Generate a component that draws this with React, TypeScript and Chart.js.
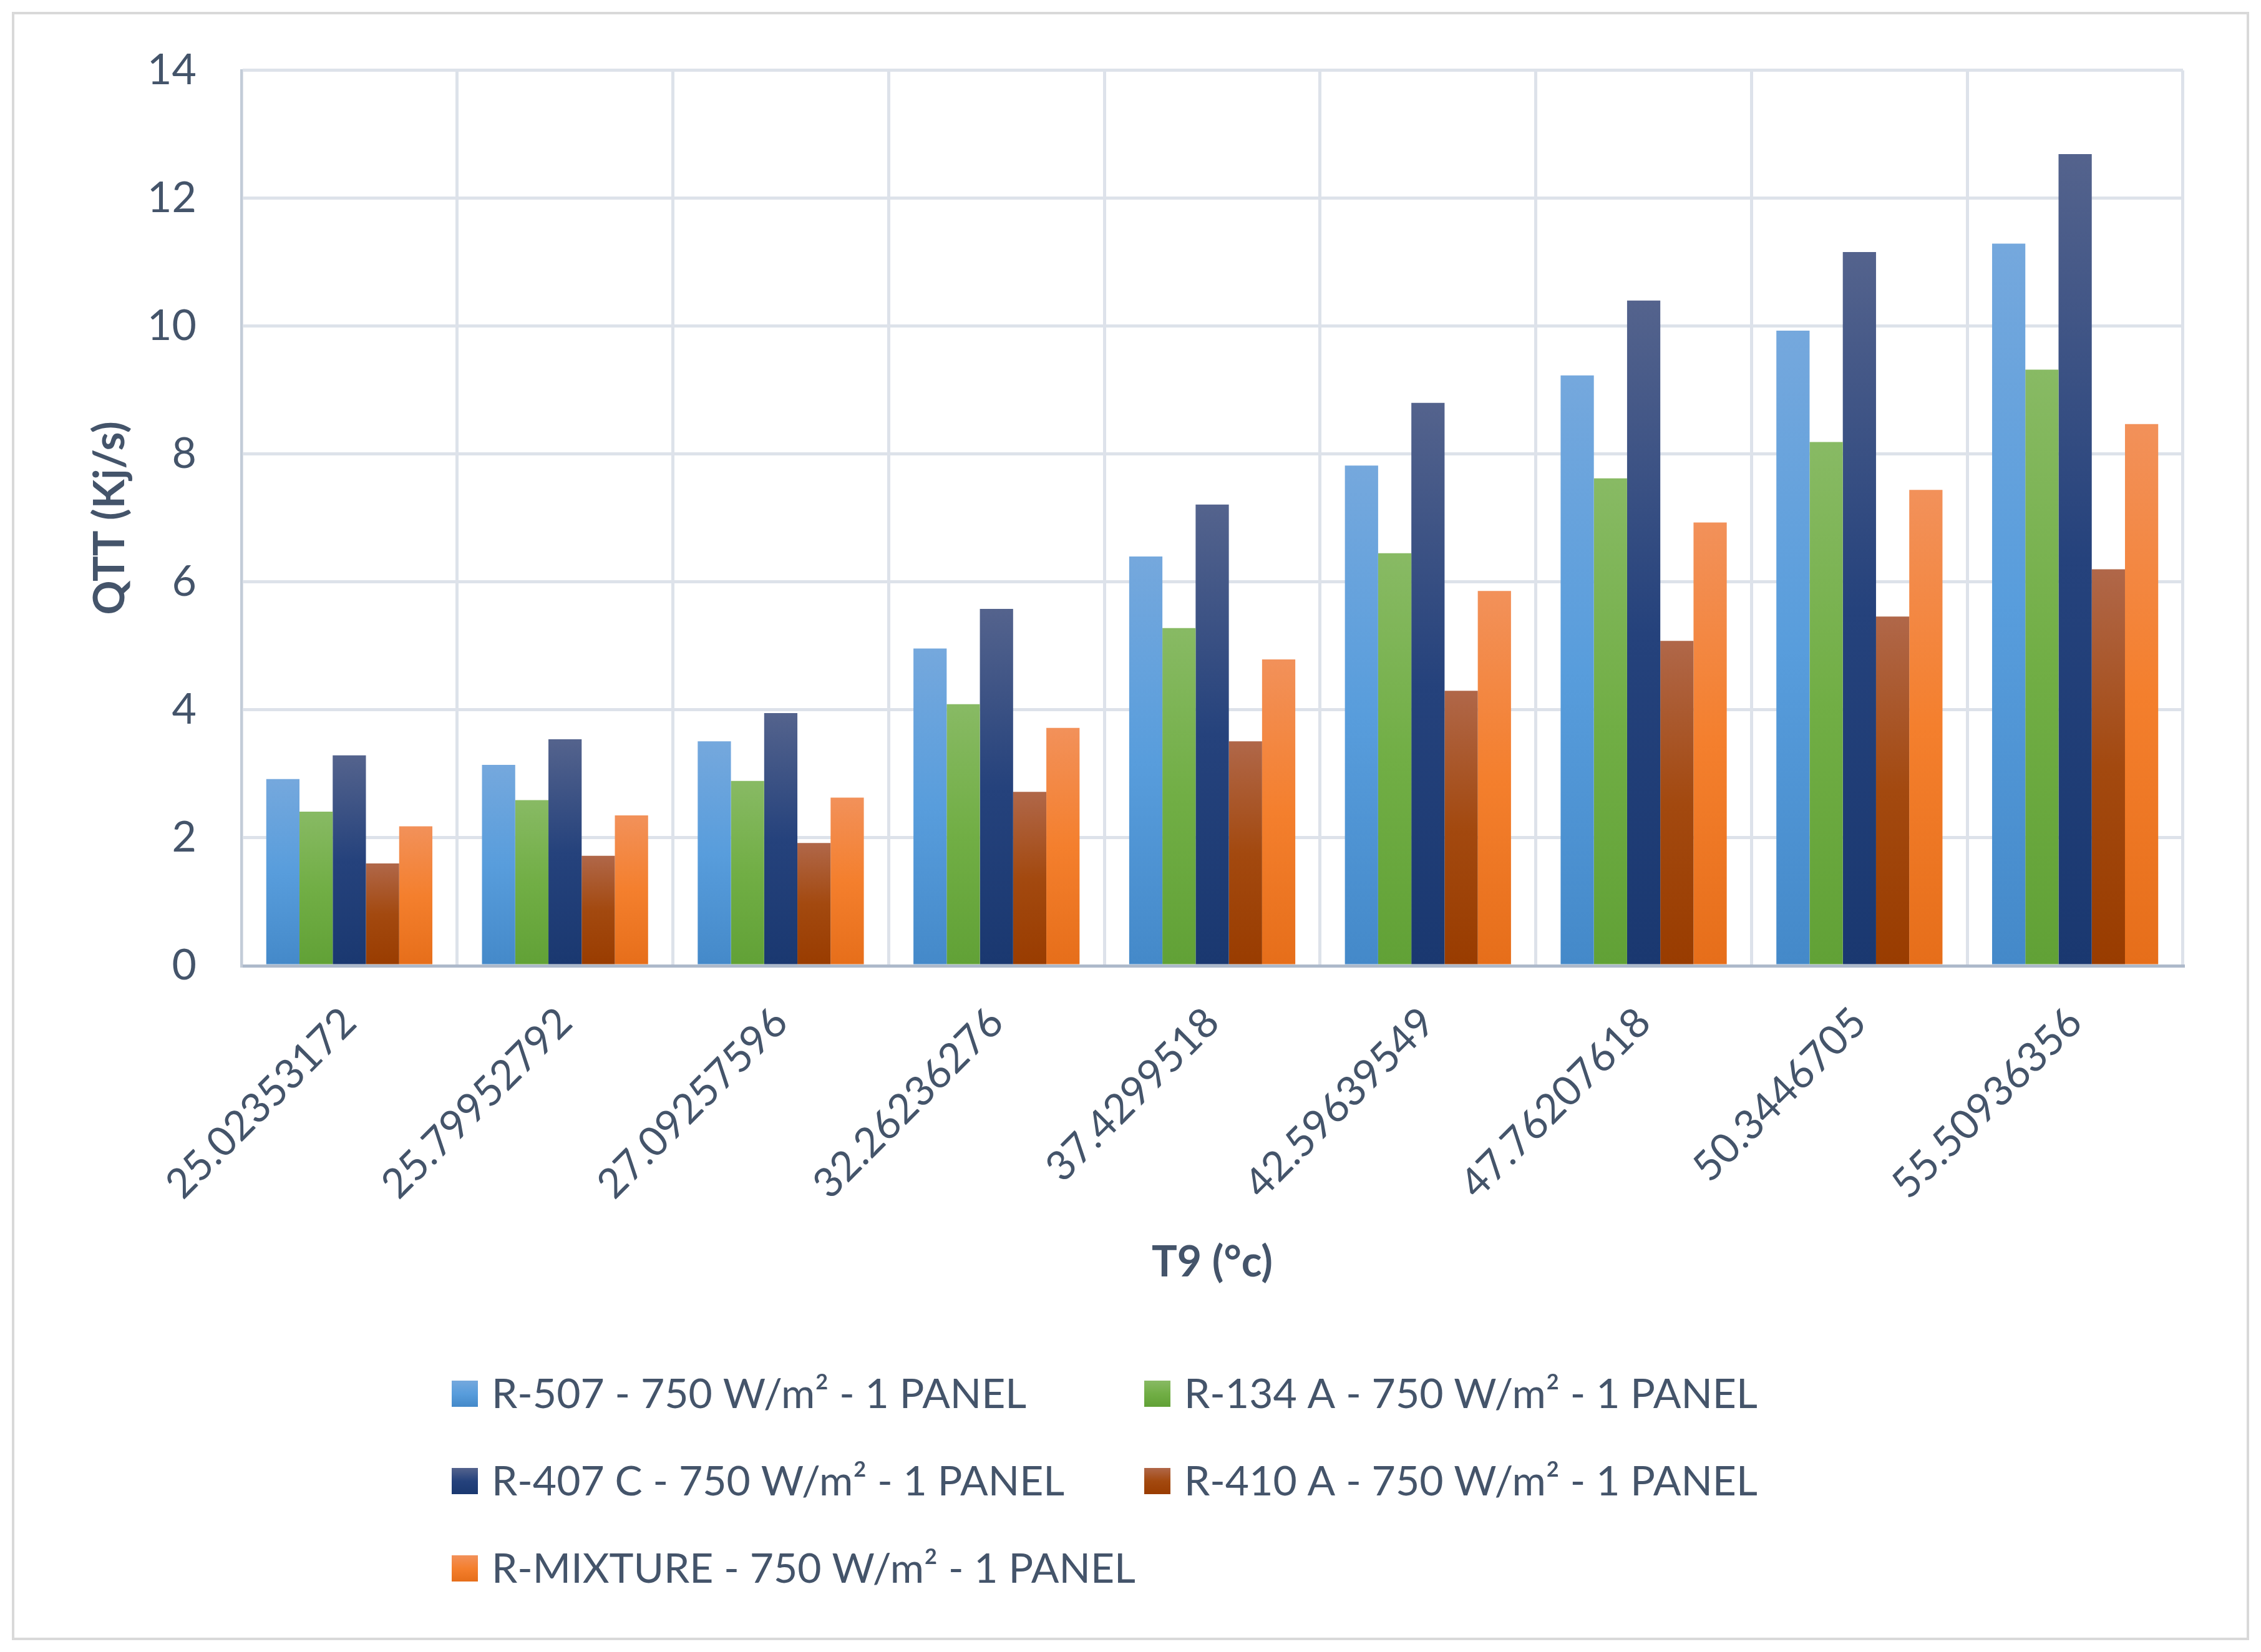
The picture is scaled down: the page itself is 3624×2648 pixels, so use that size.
import { useEffect, useRef } from "react";
import { Chart, registerables } from "chart.js";

Chart.register(...registerables);

const temperatures = [
  "25.02353172",
  "25.79952792",
  "27.09257596",
  "32.26236276",
  "37.4299518",
  "42.59639549",
  "47.76207618",
  "50.3446705",
  "55.50936356",
];

const r507 = [2.92, 3.14, 3.51, 4.96, 6.4, 7.82, 9.23, 9.93, 11.29];
const r134a = [2.41, 2.59, 2.89, 4.09, 5.28, 6.45, 7.62, 8.19, 9.32];
const r407c = [3.29, 3.54, 3.95, 5.58, 7.21, 8.8, 10.4, 11.16, 12.69];
const r410a = [1.6, 1.72, 1.92, 2.72, 3.51, 4.3, 5.08, 5.46, 6.2];
const rMixture = [2.18, 2.35, 2.63, 3.72, 4.79, 5.86, 6.93, 7.44, 8.47];

const seriesNames = [
  "R-507 - 750 W/m² - 1 PANEL",
  "R-134 A - 750 W/m² - 1 PANEL",
  "R-407 C - 750 W/m² - 1 PANEL",
  "R-410 A - 750 W/m² - 1 PANEL",
  "R-MIXTURE - 750 W/m² - 1 PANEL",
];

// top, middle, bottom of each bar's gradient
const gradients = [
  ["#75A8DD", "#589DDC", "#4489C9"],
  ["#88BA64", "#71AE45", "#61A136"],
  ["#54638D", "#25427C", "#1A3870"],
  ["#B06749", "#A3490F", "#993C00"],
  ["#F2915A", "#F47F2D", "#E66E1A"],
];

const textColor = "#44546A";
const fontFamily = "Lato, sans-serif";

function barFill(series: number) {
  const [top, mid, bottom] = gradients[series];
  return (c: any) => {
    const chart = c.chart;
    if (!chart.chartArea || !c.parsed) return mid;
    const y = chart.scales.y;
    const y0 = y.getPixelForValue(c.parsed.y);
    const y1 = y.getPixelForValue(0);
    if (!isFinite(y0) || !isFinite(y1) || y0 === y1) return mid;
    const g = chart.ctx.createLinearGradient(0, y0, 0, y1);
    g.addColorStop(0, top);
    g.addColorStop(0.5, mid);
    g.addColorStop(1, bottom);
    return g;
  };
}

const frame = {
  id: "frame",
  beforeDraw(chart: any) {
    const ctx = chart.ctx;
    ctx.save();
    ctx.strokeStyle = "#D9D9D9";
    ctx.lineWidth = 4;
    ctx.strokeRect(21, 21, chart.width - 42, chart.height - 42);
    ctx.restore();
  },
};

const gridLegend = {
  id: "gridLegend",
  afterDraw(chart: any) {
    const ctx = chart.ctx;
    ctx.save();
    chart.data.datasets.forEach((ds: any, i: number) => {
      const col = i % 2;
      const row = Math.floor(i / 2);
      const x = 724 + col * 1110;
      const yc = 2234 + row * 140;
      const [top, mid, bottom] = gradients[i];
      const g = ctx.createLinearGradient(0, yc - 21, 0, yc + 21);
      g.addColorStop(0, top);
      g.addColorStop(0.5, mid);
      g.addColorStop(1, bottom);
      ctx.fillStyle = g;
      ctx.fillRect(x, yc - 21, 42, 42);
      ctx.fillStyle = textColor;
      ctx.font = `66px ${fontFamily}`;
      ctx.textBaseline = "middle";
      ctx.textAlign = "left";
      ctx.fillText(ds.label, x + 64, yc + 2);
    });
    ctx.restore();
  },
};

export default function App() {
  const ref = useRef<HTMLCanvasElement | null>(null);

  useEffect(() => {
    if (!ref.current) return;
    const values = [r507, r134a, r407c, r410a, rMixture];
    const chart = new Chart(ref.current, {
      type: "bar",
      data: {
        labels: temperatures,
        datasets: values.map((data, i) => ({
          label: seriesNames[i],
          data: data,
          backgroundColor: barFill(i),
          borderWidth: 0,
          categoryPercentage: 0.77,
          barPercentage: 1,
        })),
      },
      options: {
        animation: false,
        responsive: true,
        maintainAspectRatio: false,
        devicePixelRatio: 1,
        layout: { padding: { top: 111, right: 125, left: 0, bottom: 0 } },
        plugins: {
          legend: { display: false },
          tooltip: { enabled: false },
        },
        scales: {
          x: {
            afterFit: (s: any) => {
              s.height = 1100;
            },
            grid: { color: "#DDE2EA", lineWidth: 5, drawTicks: false, offset: true },
            border: { color: "#ADB9CA", width: 5 },
            ticks: {
              autoSkip: false,
              minRotation: 45,
              maxRotation: 45,
              padding: 52,
              color: textColor,
              font: { family: fontFamily, size: 66 },
            },
            title: {
              display: true,
              text: "T9 (°c)",
              color: textColor,
              padding: { bottom: 583 },
              font: { family: fontFamily, size: 68, weight: "bold", lineHeight: 1.2 },
            },
          },
          y: {
            min: 0,
            max: 14,
            afterFit: (s: any) => {
              s.width = 387;
            },
            grid: { color: "#DDE2EA", lineWidth: 5, drawTicks: false },
            border: { color: "#C3CCD8", width: 4 },
            ticks: {
              stepSize: 2,
              padding: 72,
              color: textColor,
              font: { family: fontFamily, size: 68 },
            },
            title: {
              display: true,
              text: "QTT (Kj/s)",
              color: textColor,
              padding: { top: 136 },
              font: { family: fontFamily, size: 68, weight: "bold", lineHeight: 1.2 },
            },
          },
        },
      },
      plugins: [frame, gridLegend],
    });
    return () => chart.destroy();
  }, []);

  return (
    <div style={{ position: "fixed", left: 0, top: 0, width: 3624, height: 2648, background: "#fff" }}>
      <canvas ref={ref}></canvas>
    </div>
  );
}
